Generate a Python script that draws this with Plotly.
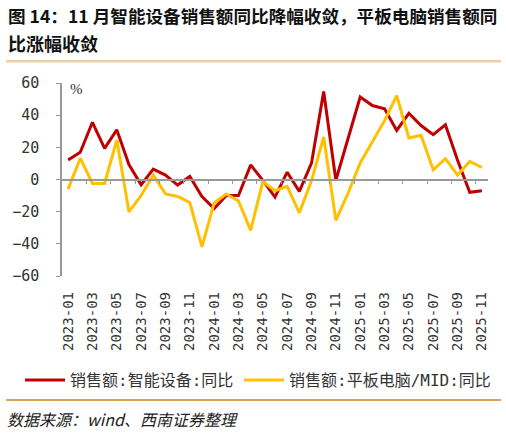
import plotly.graph_objects as go

# 月份
months = ["2023-01", "2023-02", "2023-03", "2023-04", "2023-05", "2023-06",
          "2023-07", "2023-08", "2023-09", "2023-10", "2023-11", "2023-12",
          "2024-01", "2024-02", "2024-03", "2024-04", "2024-05", "2024-06",
          "2024-07", "2024-08", "2024-09", "2024-10", "2024-11", "2024-12",
          "2025-01", "2025-02", "2025-03", "2025-04", "2025-05", "2025-06",
          "2025-07", "2025-08", "2025-09", "2025-10", "2025-11"]

# 销售额:智能设备:同比 (%)
smart_yoy = [12.1, 17.0, 35.6, 19.4, 30.9, 9.3, -3.2, 6.5, 2.8, -3.4, 2.0, -10.5,
             -18.0, -9.9, -9.9, 9.1, -0.5, -10.9, 4.6, -7.3, 10.3, 54.7, -0.4, 25.0,
             51.3, 46.0, 44.0, 30.5, 41.2, 33.6, 27.9, 34.0, 12.0, -7.9, -7.0]

# 销售额:平板电脑/MID:同比 (%)
tablet_yoy = [-5.9, 13.3, -2.4, -2.4, 24.6, -20.0, -9.9, 2.8, -8.9, -10.5, -14.3, -41.8,
              -14.5, -8.9, -13.3, -31.5, -1.2, -6.9, -4.2, -20.6, -0.8, 26.5, -25.3, -8.5,
              10.3, 23.4, 36.6, 52.1, 25.9, 27.5, 6.0, 13.0, 2.8, 11.3, 7.5]

y_ticks = [-60, -40, -20, 0, 20, 40, 60]

W, H = 506, 436
ML, MR, MT, MB = 61, 18, 83, 158

def px_x(x):
    # 像素 -> paper 坐标
    return (x - ML) / (W - ML - MR)

def px_y(y):
    return 1 - (y - MT) / (H - MT - MB)

idx = list(range(len(months)))
mono = "DejaVu Sans Mono, Noto Sans CJK SC"
cjk = "Noto Sans CJK SC"

fig = go.Figure()
fig.add_trace(go.Scatter(x=idx, y=smart_yoy, mode="lines", name="销售额:智能设备:同比",
                         line=dict(color="#C00000", width=3), legend="legend"))
fig.add_trace(go.Scatter(x=idx, y=tablet_yoy, mode="lines", name="销售额:平板电脑/MID:同比",
                         line=dict(color="#FFC000", width=3), legend="legend2"))

leg = dict(orientation="h", xref="container", yref="container",
           xanchor="left", y=1 - 380 / H, yanchor="middle",
           font=dict(family=mono, size=16, color="#333333"),
           itemwidth=40, bgcolor="rgba(0,0,0,0)")

fig.update_layout(
    width=W, height=H,
    margin=dict(l=ML, r=MR, t=MT, b=MB),
    paper_bgcolor="white", plot_bgcolor="white",
    font=dict(family=mono, size=13, color="#333333"),
    xaxis=dict(range=[-0.5, len(months) - 0.5], tickvals=idx[::2], ticktext=months[::2],
               tickangle=-90, showgrid=False, zeroline=False, showline=False,
               ticks="", ticklabelstandoff=12, tickfont=dict(family=mono, size=14, color="#333333")),
    xaxis2=dict(range=[-0.5, len(months) - 0.5], overlaying="x", anchor="free", position=0.5,
                showline=True, linecolor="#999999", linewidth=1.5, ticks="outside",
                ticklen=4, tickcolor="#999999",
                tickvals=[i + 0.5 for i in idx[1::2]], showticklabels=False,
                showgrid=False, zeroline=False),
    yaxis=dict(range=[-60, 60], tickvals=y_ticks, showgrid=False, zeroline=False,
               showline=True, linecolor="#999999", linewidth=1.5, ticks="outside",
               ticklen=4, tickcolor="#999999", ticklabelstandoff=14,
               tickfont=dict(family=mono, size=15, color="#333333")),
    legend=dict(leg, x=20 / W),
    legend2=dict(leg, x=239 / W),
    showlegend=True,
)

# 零轴 (带刻度) 用 xaxis2 画, 需要一个空 trace
fig.add_trace(go.Scatter(x=[0], y=[0], xaxis="x2", mode="markers",
                         marker=dict(opacity=0), showlegend=False, hoverinfo="skip"))

# 标题
fig.add_annotation(x=px_x(5), y=px_y(15), xref="paper", yref="paper", xanchor="left",
                   yanchor="middle", showarrow=False,
                   text="<b>图 14：11 月智能设备销售额同比降幅收敛，平板电脑销售额同</b>",
                   font=dict(family=cjk, size=17.6, color="#111111"))
fig.add_annotation(x=px_x(5), y=px_y(43), xref="paper", yref="paper", xanchor="left",
                   yanchor="middle", showarrow=False,
                   text="<b>比涨幅收敛</b>",
                   font=dict(family=cjk, size=18, color="#111111"))
# 单位
fig.add_annotation(x=px_x(67), y=px_y(89), xref="paper", yref="paper", xanchor="left",
                   yanchor="middle", showarrow=False, text="%",
                   font=dict(family="Liberation Serif", size=15, color="#333333"))
# 来源
fig.add_annotation(x=px_x(4), y=px_y(422), xref="paper", yref="paper", xanchor="left",
                   yanchor="middle", showarrow=False,
                   text="<i>数据来源：wind、西南证券整理</i>",
                   font=dict(family=cjk, size=16, color="#222222"))

# 分隔线
fig.add_shape(type="line", xref="paper", yref="paper", x0=px_x(5), x1=px_x(501),
              y0=px_y(61), y1=px_y(61), line=dict(color="#E8CFA6", width=2.5))
fig.add_shape(type="line", xref="paper", yref="paper", x0=px_x(5), x1=px_x(501),
              y0=px_y(403), y1=px_y(403), line=dict(color="#D9A35A", width=2))

fig.write_html("out.html", config={"displayModeBar": False},
               post_script="document.body.style.margin='0';")
